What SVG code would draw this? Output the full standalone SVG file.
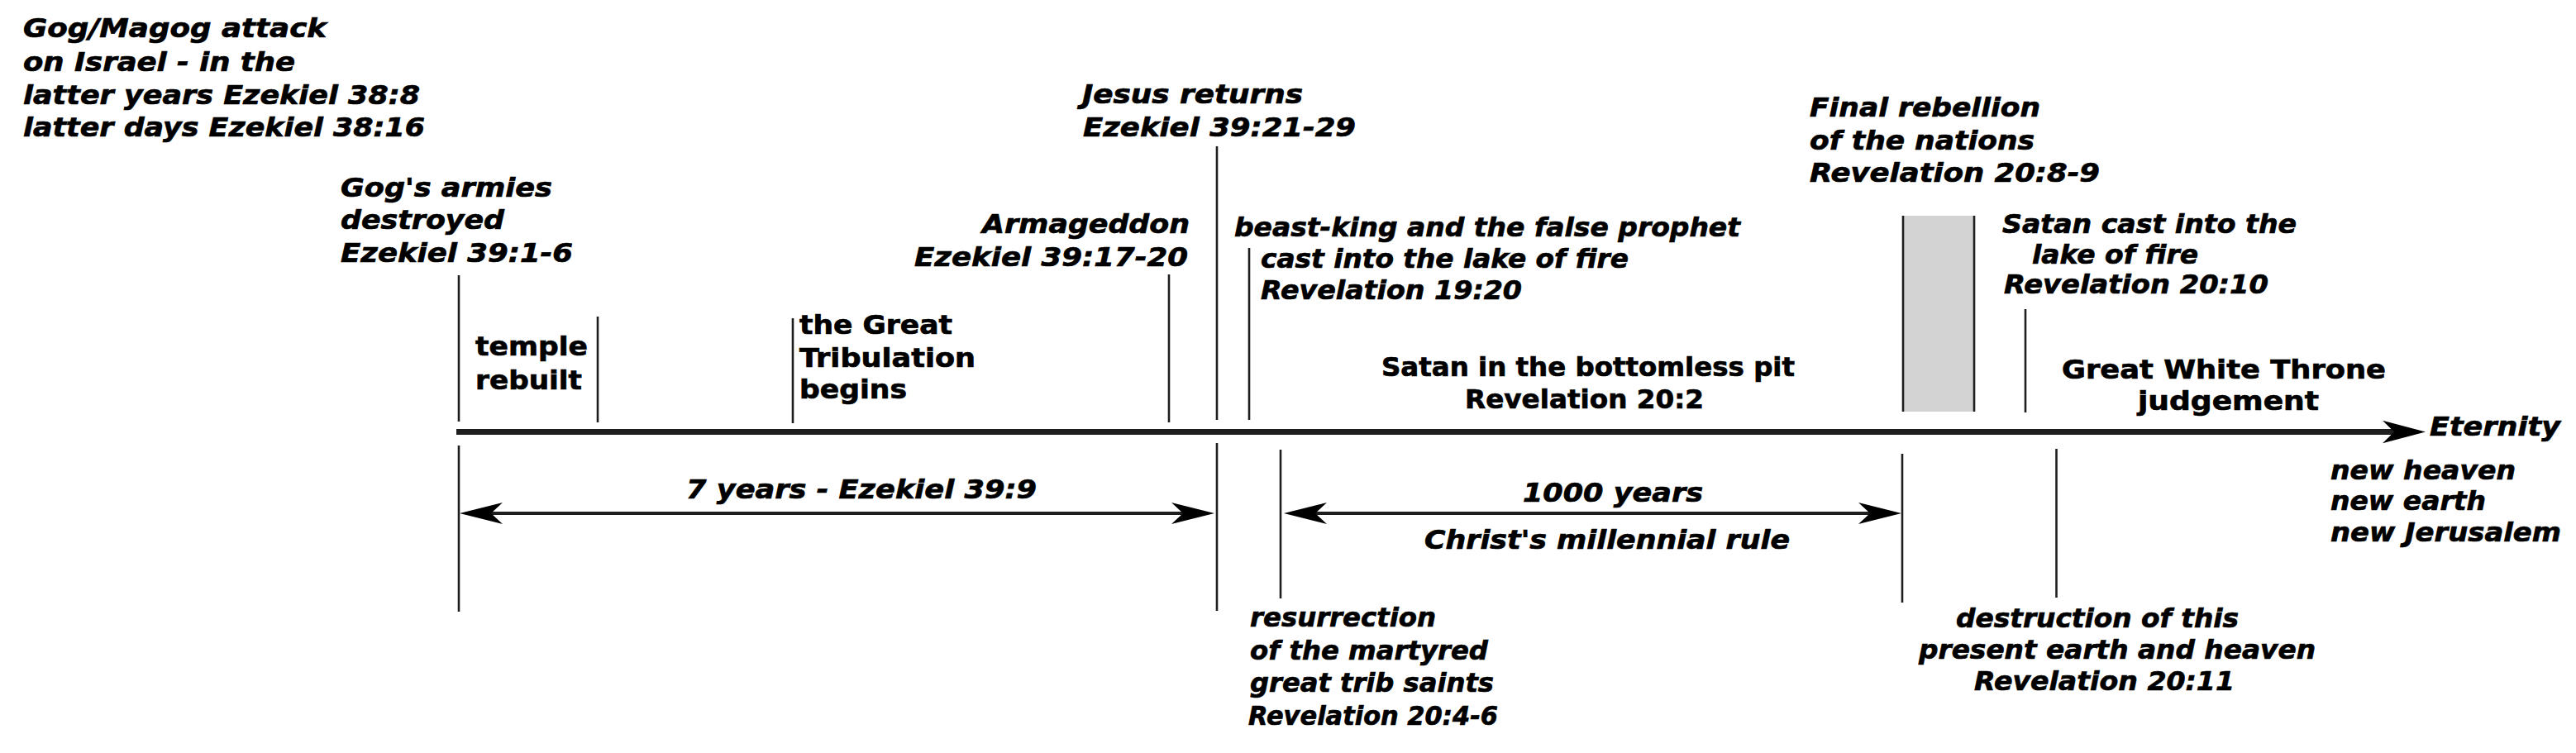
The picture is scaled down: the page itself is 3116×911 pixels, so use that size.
<svg xmlns="http://www.w3.org/2000/svg" xmlns:xlink="http://www.w3.org/1999/xlink" width="3116" height="911" viewBox="0 0 3116 911">
<style>
text{font-family:"DejaVu Sans","Liberation Sans",sans-serif;font-weight:bold;font-size:31.5px;fill:#000;stroke:#000;stroke-width:0.7px}
.it{font-style:italic}
.tk{stroke:#1e1e1e;stroke-width:2.6;fill:none}
.ax{stroke:#1e1e1e;stroke-width:7;fill:none}
.sp{stroke:#1e1e1e;stroke-width:4;fill:none}
.ah{fill:#000}
</style>
<defs>
<path id="ah" d="M0,0 L-52,-13 L-38,0 L-52,13 Z"/>
</defs>
<rect width="3116" height="911" fill="#fff"/>

<g id="connectors">
<line class="ax" x1="552" y1="522.5" x2="2900" y2="522.5"/>
<use xlink:href="#ah" class="ah" transform="translate(2934,522.5) scale(1,1.05)"/>
<line class="sp" x1="575" y1="621" x2="1450" y2="621"/>
<use xlink:href="#ah" class="ah" transform="translate(556,621) rotate(180)"/>
<use xlink:href="#ah" class="ah" transform="translate(1469,621)"/>
<line class="sp" x1="1572" y1="621" x2="2282" y2="621"/>
<use xlink:href="#ah" class="ah" transform="translate(1553,621) rotate(180)"/>
<use xlink:href="#ah" class="ah" transform="translate(2300,621)"/>
</g>

<g id="gog-magog">
<text class="it" x="28" y="45" textLength="367" lengthAdjust="spacingAndGlyphs">Gog/Magog attack</text>
<text class="it" x="28" y="86" textLength="329" lengthAdjust="spacingAndGlyphs">on Israel - in the</text>
<text class="it" x="28" y="126" textLength="480" lengthAdjust="spacingAndGlyphs">latter years Ezekiel 38:8</text>
<text class="it" x="28" y="165" textLength="486" lengthAdjust="spacingAndGlyphs">latter days Ezekiel 38:16</text>
</g>

<g id="gogs-armies">
<text class="it" x="412" y="238" textLength="256" lengthAdjust="spacingAndGlyphs">Gog's armies</text>
<text class="it" x="412" y="277" textLength="198" lengthAdjust="spacingAndGlyphs">destroyed</text>
<text class="it" x="412" y="317" textLength="281" lengthAdjust="spacingAndGlyphs">Ezekiel 39:1-6</text>
<line class="tk" x1="555" y1="333" x2="555" y2="510"/>
<line class="tk" x1="555" y1="539" x2="555" y2="740"/>
</g>

<g id="temple">
<text x="575" y="430" textLength="136" lengthAdjust="spacingAndGlyphs">temple</text>
<text x="575" y="471" textLength="129" lengthAdjust="spacingAndGlyphs">rebuilt</text>
<line class="tk" x1="723" y1="383" x2="723" y2="511"/>
</g>

<g id="great-tribulation">
<text x="967" y="404" textLength="185" lengthAdjust="spacingAndGlyphs">the Great</text>
<text x="967" y="444" textLength="213" lengthAdjust="spacingAndGlyphs">Tribulation</text>
<text x="967" y="482" textLength="130" lengthAdjust="spacingAndGlyphs">begins</text>
<line class="tk" x1="959" y1="385" x2="959" y2="512"/>
</g>

<g id="armageddon">
<text class="it" x="1188" y="282" textLength="251" lengthAdjust="spacingAndGlyphs">Armageddon</text>
<text class="it" x="1106" y="322" textLength="331" lengthAdjust="spacingAndGlyphs">Ezekiel 39:17-20</text>
<line class="tk" x1="1414" y1="332" x2="1414" y2="511"/>
</g>

<g id="jesus-returns">
<text class="it" x="1309" y="125" textLength="267" lengthAdjust="spacingAndGlyphs">Jesus returns</text>
<text class="it" x="1310" y="165" textLength="330" lengthAdjust="spacingAndGlyphs">Ezekiel 39:21-29</text>
<line class="tk" x1="1472" y1="177" x2="1472" y2="508"/>
<line class="tk" x1="1472" y1="536" x2="1472" y2="739"/>
</g>

<g id="beast-king">
<text class="it" x="1493" y="286" textLength="612" lengthAdjust="spacingAndGlyphs">beast-king and the false prophet</text>
<text class="it" x="1525" y="324" textLength="445" lengthAdjust="spacingAndGlyphs">cast into the lake of fire</text>
<text class="it" x="1525" y="362" textLength="316" lengthAdjust="spacingAndGlyphs">Revelation 19:20</text>
<line class="tk" x1="1511" y1="300" x2="1511" y2="508"/>
</g>

<g id="seven-years">
<text class="it" x="830" y="603" textLength="424" lengthAdjust="spacingAndGlyphs">7 years - Ezekiel 39:9</text>
</g>

<g id="resurrection">
<line class="tk" x1="1549" y1="544" x2="1549" y2="724"/>
<text class="it" x="1512" y="758" textLength="225" lengthAdjust="spacingAndGlyphs">resurrection</text>
<text class="it" x="1512" y="798" textLength="288" lengthAdjust="spacingAndGlyphs">of the martyred</text>
<text class="it" x="1512" y="837" textLength="295" lengthAdjust="spacingAndGlyphs">great trib saints</text>
<text class="it" x="1510" y="877" textLength="302" lengthAdjust="spacingAndGlyphs">Revelation 20:4-6</text>
</g>

<g id="bottomless-pit">
<text x="1671" y="455" textLength="500" lengthAdjust="spacingAndGlyphs">Satan in the bottomless pit</text>
<text x="1772" y="494" textLength="289" lengthAdjust="spacingAndGlyphs">Revelation 20:2</text>
</g>

<g id="millennium">
<text class="it" x="1842" y="607" textLength="218" lengthAdjust="spacingAndGlyphs">1000 years</text>
<text class="it" x="1723" y="664" textLength="442" lengthAdjust="spacingAndGlyphs">Christ's millennial rule</text>
</g>

<g id="final-rebellion">
<text class="it" x="2189" y="141" textLength="279" lengthAdjust="spacingAndGlyphs">Final rebellion</text>
<text class="it" x="2189" y="181" textLength="272" lengthAdjust="spacingAndGlyphs">of the nations</text>
<text class="it" x="2189" y="220" textLength="351" lengthAdjust="spacingAndGlyphs">Revelation 20:8-9</text>
<rect x="2302" y="261" width="86" height="237" fill="#d3d3d3"/>
<line class="tk" x1="2302" y1="261" x2="2302" y2="498"/>
<line class="tk" x1="2388" y1="261" x2="2388" y2="498"/>
<line class="tk" x1="2301" y1="549" x2="2301" y2="729"/>
</g>

<g id="satan-lake">
<text class="it" x="2422" y="282" textLength="356" lengthAdjust="spacingAndGlyphs">Satan cast into the</text>
<text class="it" x="2458" y="319" textLength="201" lengthAdjust="spacingAndGlyphs">lake of fire</text>
<text class="it" x="2424" y="355" textLength="320" lengthAdjust="spacingAndGlyphs">Revelation 20:10</text>
<line class="tk" x1="2450" y1="374" x2="2450" y2="499"/>
</g>

<g id="great-white-throne">
<text x="2494" y="458" textLength="392" lengthAdjust="spacingAndGlyphs">Great White Throne</text>
<text x="2586" y="496" textLength="219" lengthAdjust="spacingAndGlyphs">judgement</text>
</g>

<g id="destruction">
<line class="tk" x1="2487.5" y1="543" x2="2487.5" y2="723"/>
<text class="it" x="2366" y="759" textLength="342" lengthAdjust="spacingAndGlyphs">destruction of this</text>
<text class="it" x="2321" y="797" textLength="480" lengthAdjust="spacingAndGlyphs">present earth and heaven</text>
<text class="it" x="2388" y="835" textLength="315" lengthAdjust="spacingAndGlyphs">Revelation 20:11</text>
</g>

<g id="eternity">
<text class="it" x="2939" y="527" textLength="158" lengthAdjust="spacingAndGlyphs">Eternity</text>
<text class="it" x="2819" y="580" textLength="224" lengthAdjust="spacingAndGlyphs">new heaven</text>
<text class="it" x="2819" y="617" textLength="188" lengthAdjust="spacingAndGlyphs">new earth</text>
<text class="it" x="2819" y="655" textLength="279" lengthAdjust="spacingAndGlyphs">new Jerusalem</text>
</g>
</svg>
